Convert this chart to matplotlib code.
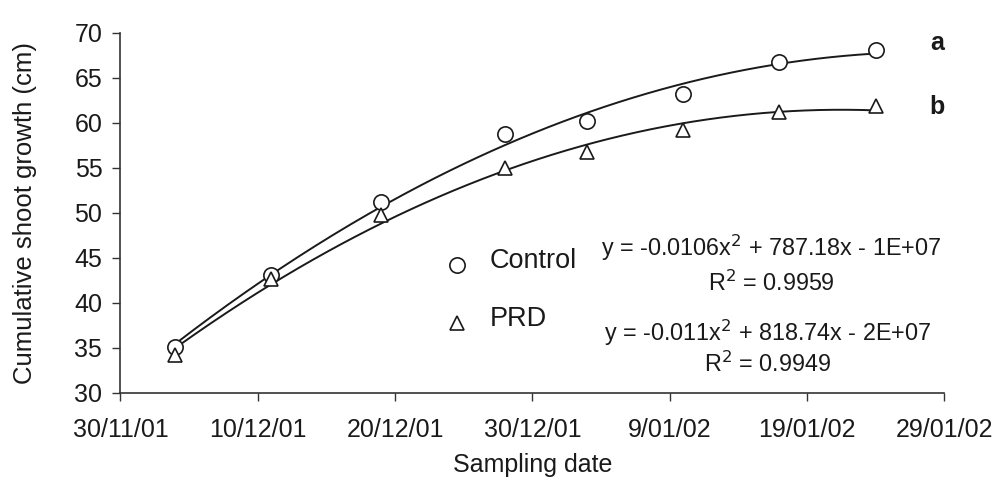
# cumulative shoot growth, Control vs PRD, with quadratic trendlines

import numpy as np
import matplotlib
matplotlib.use('Agg')
from matplotlib import pyplot as plt
import matplotlib.dates as mdates

plt.rcParams['font.family'] = ['Liberation Sans', 'DejaVu Sans']

sample_dates = ['2001-12-04', '2001-12-11', '2001-12-19', '2001-12-28',
                '2002-01-03', '2002-01-10', '2002-01-17', '2002-01-24']
control = [35.1, 43.1, 51.2, 58.8, 60.2, 63.2, 66.8, 68.1]
prd = [34.2, 42.6, 49.8, 55.0, 56.8, 59.2, 61.2, 61.9]
tick_dates = ['2001-11-30', '2001-12-10', '2001-12-20', '2001-12-30',
              '2002-01-09', '2002-01-19', '2002-01-29']
tick_labels = ['30/11/01', '10/12/01', '20/12/01', '30/12/01',
               '9/01/02', '19/01/02', '29/01/02']

x = mdates.datestr2num(sample_dates)
xt = mdates.datestr2num(tick_dates)
ink = '#1a1a1a'

fig = plt.figure(figsize=(9.95, 4.82), dpi=100)
ax = fig.add_axes([0.121, 0.185, 0.828, 0.747])

# trendlines (2nd order polynomial, like excel)
xs = np.linspace(x[0], x[-1], 200)
for y in (control, prd):
    c = np.polyfit(x - x[0], y, 2)
    ax.plot(xs, np.polyval(c, xs - x[0]), color=ink, lw=1.4, zorder=2)

ax.plot(x, control, 'o', mfc='white', mec=ink, mew=1.2, ms=11, zorder=3)
ax.plot(x, prd, '^', mfc='white', mec=ink, mew=1.2, ms=10, zorder=3)

ax.set_xlim(xt[0], xt[-1])
ax.set_ylim(30, 70)
ax.set_xticks(xt)
ax.set_xticklabels(tick_labels)
ax.set_yticks(np.arange(30, 71, 5))
ax.tick_params(labelsize=18, length=6, width=1, color='#333333', labelcolor=ink)
ax.tick_params(axis='x', pad=12)
ax.tick_params(axis='y', pad=7)
for s in ['top', 'right']:
    ax.spines[s].set_visible(False)
for s in ['left', 'bottom']:
    ax.spines[s].set_color('#333333')
    ax.spines[s].set_linewidth(1.2)

ax.set_xlabel('Sampling date', fontsize=18, color=ink, labelpad=8)
ax.set_ylabel('Cumulative shoot growth (cm)', fontsize=18.5, color=ink, labelpad=27)

# legend (drawn by hand, like the original)
ax.plot([0.409], [0.356], 'o', transform=ax.transAxes, mfc='white', mec=ink, mew=1.2, ms=11, clip_on=False)
ax.plot([0.409], [0.194], '^', transform=ax.transAxes, mfc='white', mec=ink, mew=1.2, ms=10, clip_on=False)
ax.text(0.448, 0.365, 'Control', transform=ax.transAxes, fontsize=19.5, va='center', color=ink)
ax.text(0.448, 0.205, 'PRD', transform=ax.transAxes, fontsize=19.5, va='center', color=ink)

ax.text(0.79, 0.403, 'y = -0.0106x$^2$ + 787.18x - 1E+07', transform=ax.transAxes,
        fontsize=16.8, ha='center', va='center', color=ink)
ax.text(0.79, 0.305, 'R$^2$ = 0.9959', transform=ax.transAxes,
        fontsize=16.8, ha='center', va='center', color=ink)
ax.text(0.786, 0.167, 'y = -0.011x$^2$ + 818.74x - 2E+07', transform=ax.transAxes,
        fontsize=16.8, ha='center', va='center', color=ink)
ax.text(0.786, 0.078, 'R$^2$ = 0.9949', transform=ax.transAxes,
        fontsize=16.8, ha='center', va='center', color=ink)

ax.text(0.991, 0.972, 'a', transform=ax.transAxes, fontsize=18, fontweight='bold',
        ha='center', va='center', color=ink)
ax.text(0.991, 0.794, 'b', transform=ax.transAxes, fontsize=18, fontweight='bold',
        ha='center', va='center', color=ink)

plt.savefig('out.png', dpi=100)
